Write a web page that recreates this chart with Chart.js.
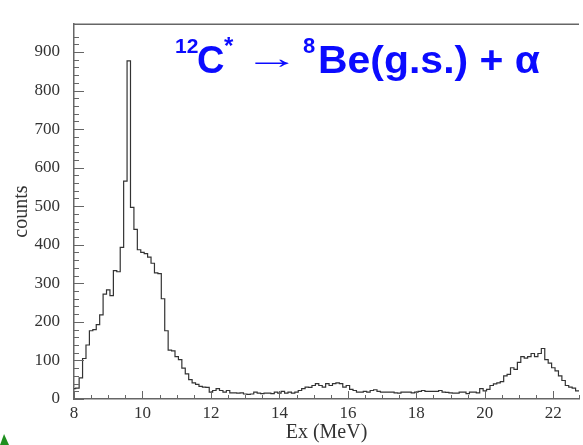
<!DOCTYPE html>
<html>
<head>
<meta charset="utf-8">
<script src="https://cdn.jsdelivr.net/npm/chart.js@4.4.1/dist/chart.umd.min.js"></script>
<style>
  html, body { margin: 0; padding: 0; background: #fff; }
  #wrap { position: relative; width: 583px; height: 445px; overflow: hidden; }
  #leaf { position: absolute; left: 0; top: 434px; width: 9px; height: 11px; background: #1f8f1f;
          clip-path: polygon(45% 0, 100% 100%, 0 100%); }
</style>
</head>
<body>
<div id="wrap">
  <canvas id="exChart" width="583" height="445"></canvas>
  <div id="leaf"></div>
</div>
<script>
// histogram: 0.1 MeV bins, first bin starts at 7.95 MeV
const binStart = 7.95;
const binWidth = 0.1;
const counts = [
  27,
  28, 55, 105, 140, 177, 180, 193, 218, 272, 283,      // 8.05 - 8.95
  268, 333, 330, 393, 565, 877, 497, 440, 387, 380,    // 9.05 - 9.95
  377, 368, 352, 327, 325, 260, 177, 127, 125, 110,    // 10.05 - 10.95
  102, 80, 65, 50, 42, 38, 33, 31, 30, 18,             // 11.05 - 11.95
  22, 27, 22, 18, 22, 16, 16, 15, 16, 13,              // 12.05 - 12.95
  12, 13, 18, 15, 14, 15, 15, 14, 18, 15,              // 13.05 - 13.95
  20, 15, 18, 15, 18, 22, 27, 31, 30, 35,              // 14.05 - 14.95
  40, 35, 31, 40, 35, 40, 42, 40, 31, 35,              // 15.05 - 15.95
  25, 22, 18, 18, 20, 18, 22, 24, 20, 18,              // 16.05 - 16.95
  18, 18, 18, 16, 15, 18, 18, 18, 16, 18,              // 17.05 - 17.95
  20, 22, 20, 20, 20, 20, 22, 18, 17, 16,              // 18.05 - 18.95
  15, 15, 18, 18, 14, 18, 18, 16, 27, 21,              // 19.05 - 19.95
  25, 35, 39, 42, 45, 60, 64, 81, 77, 95,              // 20.05 - 20.95
  110, 106, 110, 118, 110, 118, 131, 102, 93, 81,      // 21.05 - 21.95
  73, 60, 48, 35, 31, 28, 21, 20                       // 22.05 - 22.75
];
const xLabels = [8, 10, 12, 14, 16, 18, 20, 22];
const yLabels = [0, 100, 200, 300, 400, 500, 600, 700, 800, 900];

const isIn = (list, v) => list.some(l => Math.abs(l - v) < 1e-6);

// left edge of each bin, plus closing point at the last right edge
const points = counts.map((c, i) => ({ x: binStart + i * binWidth, y: c }));
points.push({ x: binStart + counts.length * binWidth, y: counts[counts.length - 1] });

const serif = "'Liberation Serif', 'Times New Roman', serif";
const axisGrey = '#666';

// short tick marks pointing into the plot, plus the top frame line
const innerTicks = {
  id: 'innerTicks',
  afterDatasetsDraw(chart) {
    const { ctx, chartArea: a, scales: { x, y } } = chart;
    ctx.save();
    ctx.strokeStyle = axisGrey;
    ctx.lineWidth = 1;
    ctx.beginPath();
    x.ticks.forEach(t => {
      const px = Math.round(x.getPixelForValue(t.value)) + 0.5;
      const len = isIn(xLabels, t.value) ? 8 : 4;
      ctx.moveTo(px, a.bottom);
      ctx.lineTo(px, a.bottom - len);
    });
    y.ticks.forEach(t => {
      const py = Math.round(y.getPixelForValue(t.value)) + 0.5;
      const len = isIn(yLabels, t.value) ? 10 : 5;
      ctx.moveTo(a.left, py);
      ctx.lineTo(a.left + len, py);
    });
    ctx.stroke();
    ctx.lineWidth = 1.5;
    ctx.beginPath();
    ctx.moveTo(a.left, a.top);
    ctx.lineTo(a.right, a.top);
    ctx.stroke();
    ctx.restore();
  }
};

// reaction label: 12C* -> 8Be(g.s.) + alpha
const reactionTitle = {
  id: 'reactionTitle',
  afterDraw(chart) {
    const ctx = chart.ctx;
    const sans = "'Liberation Sans', Arial, sans-serif";
    ctx.save();
    ctx.fillStyle = '#0b0bff';
    ctx.textBaseline = 'alphabetic';
    ctx.textAlign = 'left';

    ctx.font = 'bold 21px ' + sans;
    ctx.fillText('12', 175, 53);
    ctx.font = 'bold 38px ' + sans;
    ctx.fillText('C', 197, 73);
    ctx.font = 'bold 24px ' + sans;
    ctx.fillText('*', 224, 54);

    // long thin arrow, stretched to ~42px of ink
    ctx.font = '30px ' + sans;
    let w = ctx.measureText('\u2192').width;
    ctx.save();
    ctx.translate(244, 68);
    ctx.scale(56 / w, 1);
    ctx.fillText('\u2192', 0, 0);
    ctx.restore();

    ctx.font = 'bold 22px ' + sans;
    ctx.fillText('8', 303, 53);
    ctx.font = 'bold 38px ' + sans;
    const rest = 'Be(g.s.) + \u03b1';
    w = ctx.measureText(rest).width;
    ctx.translate(318, 73);
    ctx.scale(222 / w, 1);
    ctx.fillText(rest, 0, 0);
    ctx.restore();
  }
};

new Chart(document.getElementById('exChart'), {
  type: 'line',
  data: {
    datasets: [{
      data: points,
      stepped: 'before',
      borderColor: '#333',
      borderWidth: 1.2,
      pointRadius: 0,
      fill: false
    }]
  },
  options: {
    responsive: false,
    animation: false,
    layout: { padding: { top: 10, right: 0, bottom: 0, left: 0 } },
    plugins: {
      legend: { display: false },
      tooltip: { enabled: false }
    },
    scales: {
      x: {
        type: 'linear',
        min: 8,
        max: 22.75,
        afterFit: s => { s.height = 46; },
        grid: { display: false, drawTicks: false },
        border: { display: true, color: axisGrey, width: 1.5 },
        ticks: {
          stepSize: 0.5,
          autoSkip: false,
          maxRotation: 0,
          padding: 4,
          color: '#333',
          font: { family: serif, size: 17 },
          callback: v => isIn(xLabels, v) ? String(Math.round(v)) : ''
        },
        title: {
          display: true,
          text: 'Ex (MeV)',
          color: '#333',
          font: { family: serif, size: 20 },
          padding: { top: 0, bottom: 0 }
        }
      },
      y: {
        min: 0,
        max: 972,
        afterFit: s => { s.width = 74; },
        afterBuildTicks: s => { s.ticks = s.ticks.filter(t => t.value % 20 === 0); },
        grid: { display: false, drawTicks: false },
        border: { display: true, color: axisGrey, width: 1.5 },
        ticks: {
          stepSize: 20,
          autoSkip: false,
          padding: 14,
          color: '#333',
          font: { family: serif, size: 17 },
          callback: v => isIn(yLabels, v) ? String(v) : ''
        },
        title: {
          display: true,
          text: 'counts',
          color: '#333',
          font: { family: serif, size: 20 },
          padding: { top: 10, bottom: 0 }
        }
      }
    }
  },
  plugins: [innerTicks, reactionTitle]
});
</script>
</body>
</html>
